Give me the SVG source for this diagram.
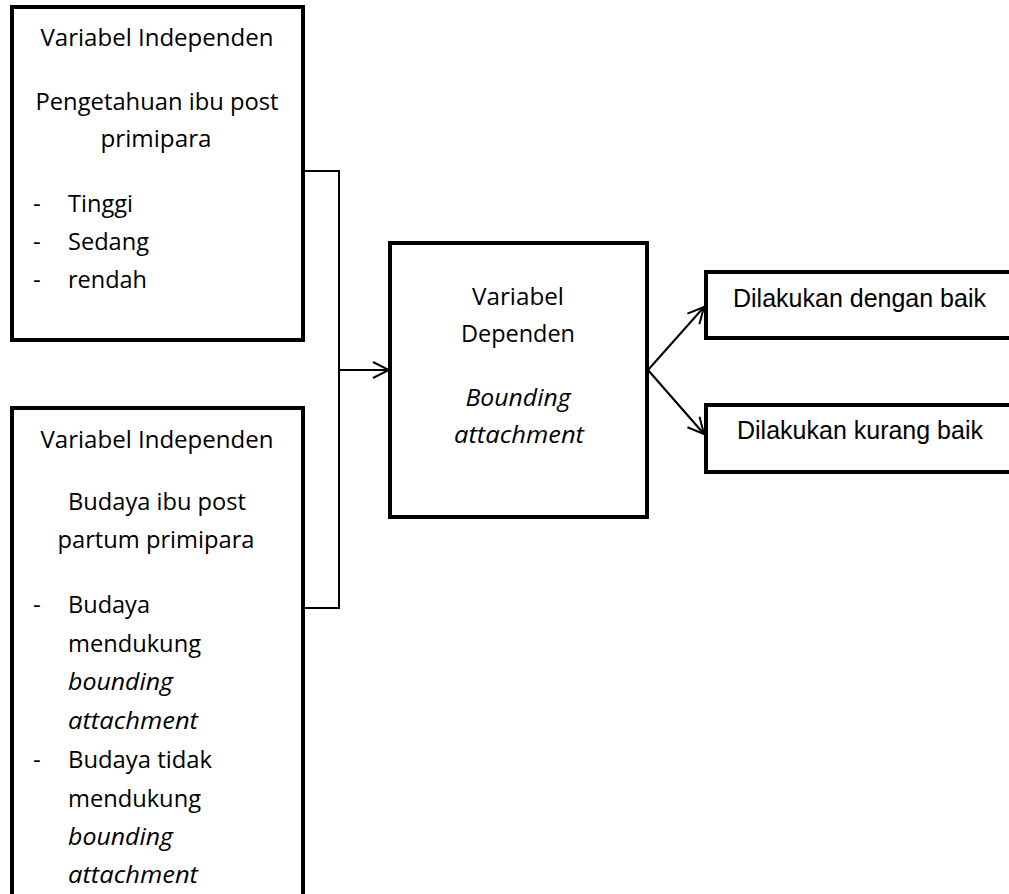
<svg xmlns="http://www.w3.org/2000/svg" width="1009" height="894" viewBox="0 0 1009 894">
<style>
.box{fill:#fff;stroke:#000;stroke-width:4}
.t{font-family:"Open Sans","Liberation Sans",sans-serif;font-size:24px;fill:#000}
.c{text-anchor:middle}
.i{font-style:italic}
.r{font-family:"Liberation Sans",Arial,sans-serif;font-size:25px;fill:#000}
.ln{fill:none;stroke:#000;stroke-width:2}
</style>
<defs>
<marker id="ah" viewBox="0 0 18 18" refX="17" refY="9" markerWidth="18" markerHeight="18" markerUnits="userSpaceOnUse" orient="auto">
<path d="M1,1 L17,9 L1,17" fill="none" stroke="#000" stroke-width="2"/>
</marker>
</defs>
<rect width="1009" height="894" fill="#fff"/>
<g id="connectors">
<polyline class="ln" points="303,171 339,171 339,608 303,608"/>
<line class="ln" x1="339" y1="370" x2="389" y2="370" marker-end="url(#ah)"/>
<line class="ln" x1="648" y1="370" x2="704" y2="307" marker-end="url(#ah)"/>
<line class="ln" x1="648" y1="370" x2="704" y2="434" marker-end="url(#ah)"/>
</g>
<g id="node-pengetahuan">
<rect class="box" x="12" y="7" width="291" height="333"/>
<text class="t c" x="157" y="46" textLength="233" lengthAdjust="spacingAndGlyphs">Variabel Independen</text>
<text class="t c" x="157" y="110" textLength="243" lengthAdjust="spacingAndGlyphs">Pengetahuan ibu post</text>
<text class="t c" x="156" y="147" textLength="111" lengthAdjust="spacingAndGlyphs">primipara</text>
<text class="t" x="33" y="212">-</text>
<text class="t" x="68" y="212" textLength="65" lengthAdjust="spacingAndGlyphs">Tinggi</text>
<text class="t" x="33" y="250">-</text>
<text class="t" x="68" y="250" textLength="81" lengthAdjust="spacingAndGlyphs">Sedang</text>
<text class="t" x="33" y="288">-</text>
<text class="t" x="68" y="288" textLength="79" lengthAdjust="spacingAndGlyphs">rendah</text>
</g>
<g id="node-budaya">
<rect class="box" x="12" y="408" width="291" height="500"/>
<text class="t c" x="157" y="448" textLength="233" lengthAdjust="spacingAndGlyphs">Variabel Independen</text>
<text class="t c" x="157" y="510" textLength="178" lengthAdjust="spacingAndGlyphs">Budaya ibu post</text>
<text class="t c" x="156" y="548" textLength="197" lengthAdjust="spacingAndGlyphs">partum primipara</text>
<text class="t" x="33" y="613">-</text>
<text class="t" x="68" y="613" textLength="82" lengthAdjust="spacingAndGlyphs">Budaya</text>
<text class="t" x="68" y="652" textLength="133" lengthAdjust="spacingAndGlyphs">mendukung</text>
<text class="t i" x="68" y="690" textLength="105" lengthAdjust="spacingAndGlyphs">bounding</text>
<text class="t i" x="68" y="729" textLength="130" lengthAdjust="spacingAndGlyphs">attachment</text>
<text class="t" x="33" y="768">-</text>
<text class="t" x="68" y="768" textLength="144" lengthAdjust="spacingAndGlyphs">Budaya tidak</text>
<text class="t" x="68" y="807" textLength="133" lengthAdjust="spacingAndGlyphs">mendukung</text>
<text class="t i" x="68" y="845" textLength="105" lengthAdjust="spacingAndGlyphs">bounding</text>
<text class="t i" x="68" y="883" textLength="130" lengthAdjust="spacingAndGlyphs">attachment</text>
</g>
<g id="node-dependen">
<rect class="box" x="390" y="243" width="257" height="274"/>
<text class="t c" x="518" y="305" textLength="92" lengthAdjust="spacingAndGlyphs">Variabel</text>
<text class="t c" x="518" y="342" textLength="114" lengthAdjust="spacingAndGlyphs">Dependen</text>
<text class="t c i" x="518" y="406" textLength="105" lengthAdjust="spacingAndGlyphs">Bounding</text>
<text class="t c i" x="519" y="443" textLength="130" lengthAdjust="spacingAndGlyphs">attachment</text>
</g>
<g id="node-baik">
<rect class="box" x="706" y="272" width="330" height="66"/>
<text class="r" x="733" y="307" textLength="253" lengthAdjust="spacingAndGlyphs">Dilakukan dengan baik</text>
</g>
<g id="node-kurang">
<rect class="box" x="706" y="405" width="330" height="67"/>
<text class="r" x="737" y="439" textLength="246" lengthAdjust="spacingAndGlyphs">Dilakukan kurang baik</text>
</g>
</svg>
